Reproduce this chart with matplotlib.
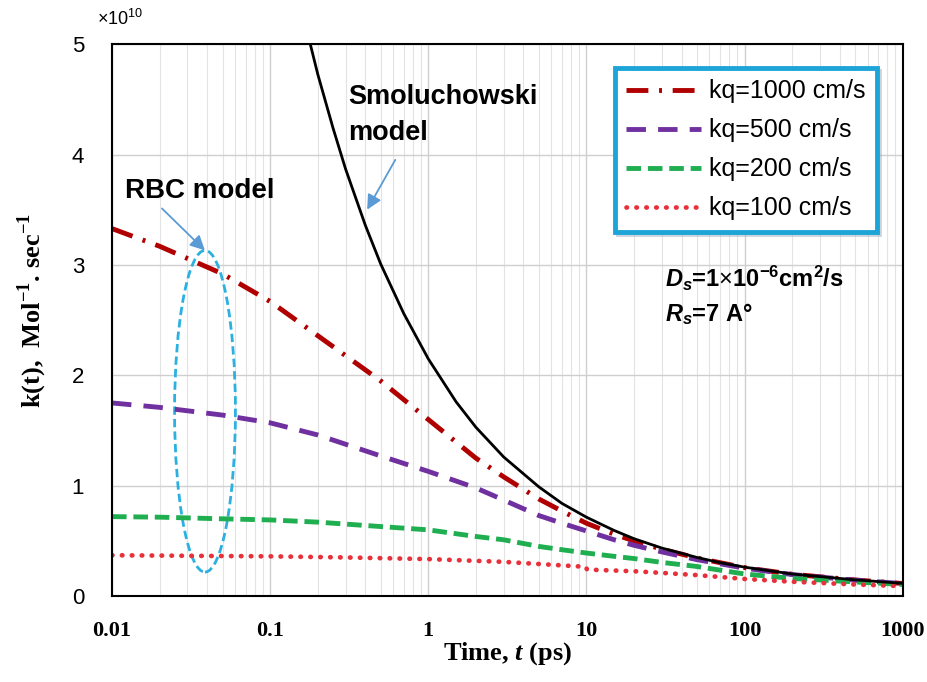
import matplotlib as mpl
mpl.use("Agg")
import matplotlib.pyplot as plt
from matplotlib.patches import Ellipse
from matplotlib.ticker import FixedLocator, NullFormatter

mpl.rcParams["mathtext.fontset"] = "custom"
mpl.rcParams["mathtext.rm"] = "Liberation Sans"
mpl.rcParams["mathtext.it"] = "Liberation Sans:italic:bold"
mpl.rcParams["mathtext.bf"] = "Liberation Sans:bold"
mpl.rcParams["mathtext.sf"] = "Liberation Serif:bold"
mpl.rcParams["mathtext.bfit"] = "Liberation Serif:italic:bold"

# values, k in units of 1e10 M^-1 s^-1, t in ps
t_smol = [0.15, 0.2, 0.25, 0.3, 0.4, 0.5, 0.7, 1, 1.5, 2, 3, 5, 7, 10, 15,
          20, 30, 50, 70, 100, 200, 500, 1000]
k_smol = [5.45, 4.73, 4.24, 3.87, 3.36, 3.01, 2.56, 2.15, 1.76, 1.53, 1.26,
          0.99, 0.84, 0.715, 0.594, 0.52, 0.435, 0.35, 0.303, 0.262, 0.20,
          0.147, 0.115]

t_rbc = [0.01, 0.02, 0.05, 0.1, 0.2, 0.5, 1, 2, 3, 5, 7, 10, 15, 20, 30, 50,
         100, 200, 500, 1000]
k_1000 = [3.33, 3.17, 2.92, 2.67, 2.36, 1.95, 1.60, 1.25, 1.08, 0.88, 0.77,
          0.66, 0.56, 0.50, 0.425, 0.345, 0.258, 0.198, 0.146, 0.114]
k_500 = [1.75, 1.71, 1.64, 1.57, 1.46, 1.27, 1.13, 0.98, 0.87, 0.73, 0.66,
         0.59, 0.51, 0.46, 0.40, 0.33, 0.253, 0.195, 0.144, 0.113]
k_200 = [0.72, 0.715, 0.70, 0.69, 0.67, 0.63, 0.60, 0.54, 0.51, 0.45, 0.42,
         0.39, 0.36, 0.34, 0.305, 0.268, 0.20, 0.16, 0.128, 0.105]

t_100 = [0.01, 0.03, 0.1, 0.3, 1, 3, 9.9, 10.1, 20, 30, 50, 100, 200, 500,
         1000]
k_100 = [0.37, 0.365, 0.36, 0.35, 0.335, 0.31, 0.265, 0.24, 0.225, 0.21,
         0.19, 0.155, 0.13, 0.105, 0.09]

labels = ["kq=1000 cm/s", "kq=500 cm/s", "kq=200 cm/s", "kq=100 cm/s"]
xticks = [0.01, 0.1, 1, 10, 100, 1000]
xticklabels = ["0.01", "0.1", "1", "10", "100", "1000"]

fig = plt.figure(figsize=(9.28, 6.82), dpi=100)
ax = fig.add_axes([0.1207, 0.126, 0.852, 0.809])

ax.plot(t_rbc, k_1000, color="#b00000", lw=3.5,
        linestyle=(0, (4.5, 2.2, 0.6, 2.2)), label=labels[0])
ax.plot(t_rbc, k_500, color="#7030a0", lw=3.5,
        linestyle=(0, (4, 2.5)), label=labels[1])
ax.plot(t_rbc, k_200, color="#1fae50", lw=3.5,
        linestyle=(0, (3, 1.4)), label=labels[2])
ax.plot(t_100, k_100, color="#e8303a", lw=3.4, dash_capstyle="round",
        linestyle=(0, (0.1, 2.0)), label=labels[3])
ax.plot(t_smol, k_smol, color="black", lw=2)

ax.set_xscale("log")
ax.set_xlim(0.01, 1000)
ax.set_ylim(0, 5)

ax.xaxis.set_major_locator(FixedLocator(xticks))
ax.set_xticklabels(xticklabels, family="Liberation Serif",
                   fontweight="bold", fontsize=16)
minors = [m * 10.0 ** e for e in range(-2, 3) for m in range(2, 10)]
ax.xaxis.set_minor_locator(FixedLocator(minors))
ax.xaxis.set_minor_formatter(NullFormatter())
ax.set_yticks([0, 1, 2, 3, 4, 5])
ax.set_yticklabels(["0", "1", "2", "3", "4", "5"],
                   family="Liberation Sans", fontsize=16)
ax.tick_params(axis="x", which="both", length=0, pad=18)
ax.tick_params(axis="y", length=0, pad=20)

ax.grid(True, which="major", axis="both", color="#cfcfcf", lw=1)
ax.grid(True, which="minor", axis="x", color="#e3e3e3", lw=0.8)
ax.set_axisbelow(True)
for s in ax.spines.values():
    s.set_linewidth(1.5)

ax.set_xlabel(r"Time, $\mathbfit{t}$ (ps)", family="Liberation Serif",
              fontweight="bold", fontsize=19)
ax.xaxis.set_label_coords(0.5, -0.08)
ax.set_ylabel(r"k(t),  Mol$^{\mathsf{-1}}$. sec$^{\mathsf{-1}}$",
              family="Liberation Serif", fontweight="bold", fontsize=19)
ax.yaxis.set_label_coords(-0.08, 0.518)

fig.text(0.104, 0.972, r"$\times$10$^{10}$", family="Liberation Sans",
         fontsize=13, va="center")

leg = ax.legend(loc="upper right", bbox_to_anchor=(0.967, 0.957),
                fontsize=18, handlelength=3.0, frameon=True, fancybox=False,
                shadow={"color": "#9ab", "alpha": 0.5}, borderpad=0.45,
                labelspacing=0.6, handletextpad=0.3, borderaxespad=0)
leg.get_frame().set_edgecolor("#1ea5d8")
leg.get_frame().set_linewidth(3.5)
for txt in leg.get_texts():
    txt.set_family("Liberation Sans")

ax.text(0.299, 0.872, "Smoluchowski\nmodel", transform=ax.transAxes,
        family="Liberation Sans", fontweight="bold", fontsize=19.5,
        va="center", ha="left", linespacing=1.5)
ax.text(0.017, 0.735, "RBC model", transform=ax.transAxes,
        family="Liberation Sans", fontweight="bold", fontsize=20,
        va="center", ha="left")

arrow = dict(arrowstyle="-|>", color="#5b9bd5", lw=1.3, mutation_scale=22)
ax.annotate("", xy=(0.321, 0.696), xytext=(0.360, 0.795),
            xycoords="axes fraction", arrowprops=arrow)
ax.annotate("", xy=(0.120, 0.623), xytext=(0.0607, 0.706),
            xycoords="axes fraction", arrowprops=arrow)

ax.add_patch(Ellipse((0.1176, 0.335), 0.077, 0.583, transform=ax.transAxes,
                     fill=False, edgecolor="#2bb0e0", lw=2,
                     linestyle=(0, (3, 1.5))))

ax.text(0.699, 0.576, r"$\mathit{D_s}$=1$\times$10$^{\mathbf{-6}}$cm$^{\mathbf{2}}$/s",
        transform=ax.transAxes, family="Liberation Sans", fontweight="bold",
        fontsize=17, va="center")
ax.text(0.699, 0.512, r"$\mathit{R_s}$=7 A°",
        transform=ax.transAxes, family="Liberation Sans", fontweight="bold",
        fontsize=17, va="center")

fig.savefig("out.png", dpi=100)
